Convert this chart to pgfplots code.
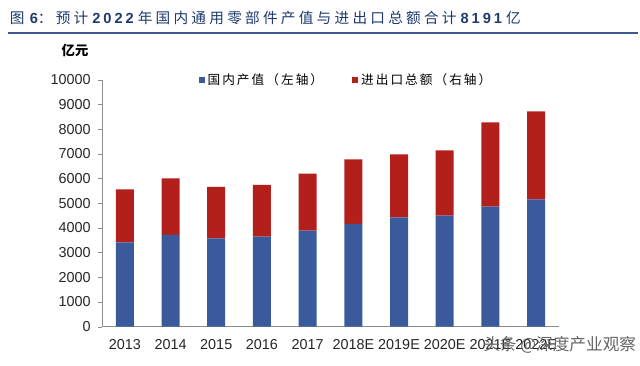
\documentclass[border=0pt]{standalone}
\usepackage{fontspec}
\setmainfont{Liberation Sans}
\newfontfamily\cjk{Noto Sans CJK SC}
\newfontfamily\cjkt{Noto Sans CJK SC}[LetterSpace=22]
\newfontfamily\cjkl{Noto Sans CJK SC}[LetterSpace=16]
\newfontfamily\tnum{Liberation Sans}[LetterSpace=20]
\usepackage{pgfplots}
\pgfplotsset{compat=1.18}
\definecolor{barblue}{HTML}{3A5A9C}
\definecolor{barred}{HTML}{B3201B}
\definecolor{titleblue}{HTML}{1F3A6E}
\definecolor{rulecol}{HTML}{3D5892}
\definecolor{axgray}{HTML}{8C8C8C}
\begin{document}
\begin{tikzpicture}[x=0.75pt,y=0.75pt]
\useasboundingbox (0,0) rectangle (640,366);
% title
\node[anchor=west,inner sep=0pt,text=titleblue,font=\fontsize{11}{12}\selectfont] at (9.5,348)
 {{\cjkt 图}\hspace{4pt}{\tnum\bfseries 6}{\cjkt ：预计}\hspace{3pt}{\tnum\bfseries 2022}\hspace{3pt}{\cjkt 年国内通用零部件产值与进出口总额合计}\hspace{3pt}{\tnum\bfseries 8191}\hspace{3pt}{\cjkt 亿}};
\draw[rulecol,line width=1.5pt] (8,333) -- (638,333);
\node[inner sep=0pt,font=\fontsize{10}{12}\selectfont\cjk\bfseries] at (75,316) {亿元};
\begin{axis}[
  at={(76.5pt,29.475pt)}, anchor=south west,
  scale only axis, width=342.75pt, height=185.25pt,
  ybar stacked, bar width=13.5pt,
  xmin=-0.5, xmax=9.5, ymin=0, ymax=10000,
  axis x line*=bottom, axis y line*=left,
  axis line style={axgray,-},
  ytick={0,1000,...,10000},
  scaled y ticks=false,
  /pgf/number format/.cd, 1000 sep={}, assume math mode=true, /pgfplots/.cd,
  xtick={0,...,9},
  xticklabels={2013,2014,2015,2016,2017,2018E,2019E,2020E,2021E,2022E},
  major x tick style={draw=none},
  extra x ticks={-0.5,0.5,...,9.5},
  extra x tick labels={},
  extra x tick style={major tick length=4pt, tick style={axgray, draw=axgray}},
  tick align=outside,
  major tick length=3pt,
  ytick style={axgray},
  tick label style={font=\fontsize{10.8}{12}\selectfont, text=black!85},
  yticklabel style={xshift=-2pt},
  xticklabel style={yshift=-3pt},
  legend columns=2,
  legend style={draw=none, fill=none, at={(0.535,1.0)}, anchor=center,
    font=\fontsize{9.5}{12}\selectfont\cjkl,
    /tikz/every even column/.append style={column sep=20pt}},
  legend image code/.code={\fill[#1,draw=none] (0pt,-2.25pt) rectangle (4.5pt,2.25pt);},
]
\addplot[fill=barblue, draw=none] coordinates {
 (0,3417) (1,3713) (2,3579) (3,3644) (4,3887) (5,4158) (6,4429) (7,4494) (8,4858) (9,5158)};
\addplot[fill=barred, draw=none] coordinates {
 (0,2146) (1,2295) (2,2077) (3,2093) (4,2307) (5,2619) (6,2551) (7,2648) (8,3417) (9,3563)};
\legend{国内产值（左轴）,进出口总额（右轴）}
\end{axis}
\node[anchor=west,inner sep=0pt,text=black!60,font=\fontsize{12.5}{14}\selectfont\cjk] at (483,21) {头条 @深度产业观察};
\end{tikzpicture}
\end{document}
